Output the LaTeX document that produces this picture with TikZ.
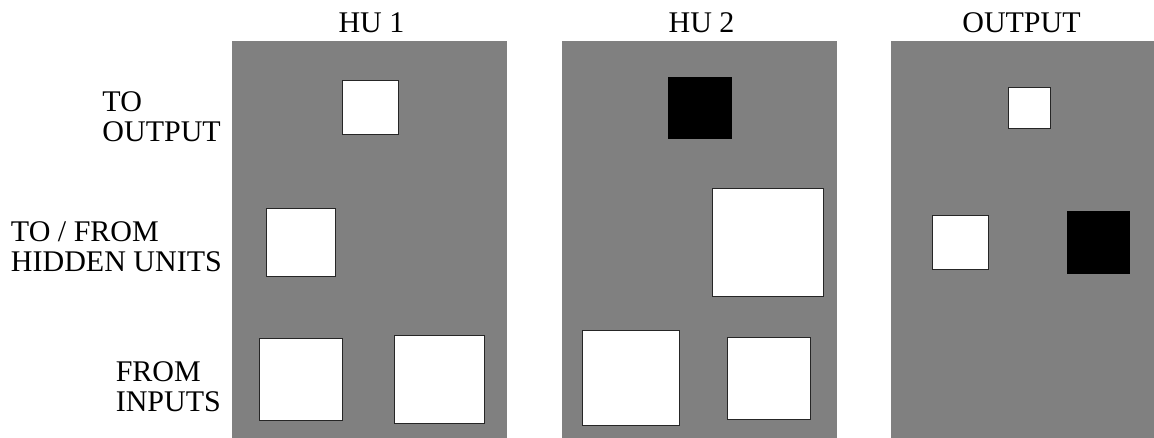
\documentclass[tikz,border=0pt]{standalone}
\usepackage{fontspec}
\setmainfont{Liberation Serif}
\usetikzlibrary{positioning}
\definecolor{panelgray}{HTML}{808080}
\definecolor{edge}{HTML}{262626}

\tikzset{
  panel/.style={fill=panelgray, draw=none, inner sep=0pt,
                minimum width=275pt, minimum height=397pt},
  wsq/.style={fill=white, draw=edge, line width=1pt, inner sep=0pt},
  bsq/.style={fill=black, draw=black, line width=1pt, inner sep=0pt},
  coltitle/.style={font=\fontsize{30}{30}\selectfont, inner sep=0pt, anchor=base},
  rowlabel/.style={font=\fontsize{30}{30}\selectfont, align=left, inner sep=0pt, anchor=east},
}

\begin{document}
\begin{tikzpicture}[x=1pt, y=-1pt]

\useasboundingbox (0,0) rectangle (1154,438);

% ========== Panels ==========
\node[panel] (hu1) at (369.5,239.5) {};
\node[panel] (hu2) at (699,239.5) {};
\node[panel] (out) at (1028.5,239.5) {};

% Titles
\node[coltitle] (t1) at (371.5,33) {HU 1};
\node[coltitle] (t2) at (701.5,33) {HU 2};
\node[coltitle] (t3) at (1021.5,33) {OUTPUT};

% Row labels
\node[rowlabel] (lout) at (221,116.7) {TO\\OUTPUT};
\node[rowlabel] (lhid) at (222,246.7) {TO / FROM\\HIDDEN UNITS};
\node[rowlabel] (lin)  at (221,386.7) {FROM\\INPUTS};

% ========== HU 1 ==========
\node[wsq, minimum width=56pt, minimum height=54pt] (a1) at (370,108) {};
\node[wsq, minimum width=69pt, minimum height=68pt] (b1) at (300.5,243) {};
\node[wsq, minimum width=83pt, minimum height=81pt] (c1) at (300.5,379.5) {};
\node[wsq, minimum width=90pt, minimum height=87pt] (d1) at (439,379.5) {};

% ========== HU 2 ==========
\node[bsq, minimum width=63pt, minimum height=61pt] (a2) at (699.5,108.5) {};
\node[wsq, minimum width=111pt, minimum height=108pt] (b2) at (767.5,243) {};
\node[wsq, minimum width=97pt, minimum height=94pt] (c2) at (630.5,378) {};
\node[wsq, minimum width=83pt, minimum height=81pt] (d2) at (768.5,378.5) {};

% ========== OUTPUT ==========
\node[wsq, minimum width=42pt, minimum height=41pt] (a3) at (1029,108.5) {};
\node[wsq, minimum width=56pt, minimum height=54pt] (b3) at (960,243) {};
\node[bsq, minimum width=62pt, minimum height=62pt] (c3) at (1098,243) {};

\end{tikzpicture}
\end{document}
